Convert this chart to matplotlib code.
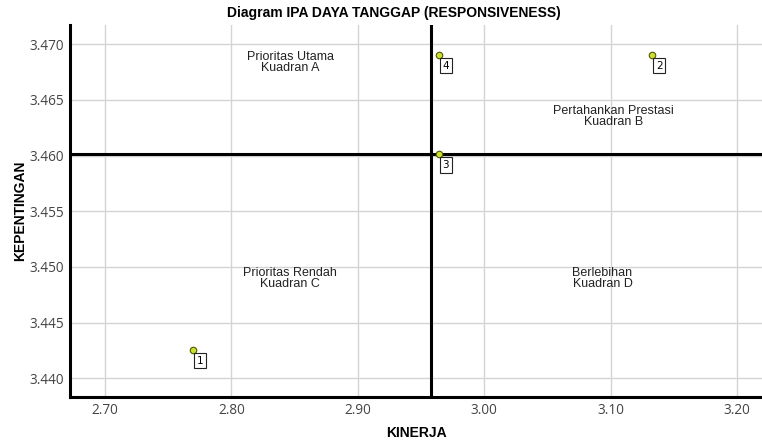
import matplotlib
matplotlib.use("Agg")
import matplotlib.pyplot as plt
import numpy as np

# Data
labels = ["1", "2", "3", "4"]
kinerja = [2.770, 3.133, 2.964, 2.964]
kepentingan = [3.4425, 3.4690, 3.4601, 3.4690]

quad_texts = ["Prioritas Utama\nKuadran A", "Pertahankan Prestasi\nKuadran B",
              "Prioritas Rendah\nKuadran C", "Berlebihan\nKuadran D"]
quad_x = [2.8466, 3.1024, 2.8466, 3.0936]
quad_y = [3.4684, 3.4635, 3.4490, 3.4490]

xticks = [2.70, 2.80, 2.90, 3.00, 3.10, 3.20]
yticks = [3.440, 3.445, 3.450, 3.455, 3.460, 3.465, 3.470]

title = "Diagram IPA DAYA TANGGAP (RESPONSIVENESS)"

plt.rcParams['font.family'] = ['Liberation Sans', 'DejaVu Sans']

fig = plt.figure(figsize=(7.62, 4.43), dpi=100)
ax = fig.add_axes([70/762, 1-397/443, 1-70/762, (397-25)/443])

ax.set_xlim(2.6724, 3.2197)
ax.set_ylim(3.43832, 3.47173)
ax.set_xticks(xticks)
ax.set_xticklabels([f"{v:.2f}" for v in xticks], fontfamily='Open Sans', color='#444444', fontsize=9.8)
ax.set_yticks(yticks)
ax.set_yticklabels([f"{v:.3f}" for v in yticks], fontfamily='Open Sans', color='#444444', fontsize=9.8)
ax.tick_params(length=0, pad=4)
ax.grid(True, color='#d4d4d4', linewidth=1)
ax.set_axisbelow(True)
for s in ['top', 'right']:
    ax.spines[s].set_visible(False)
for s in ['left', 'bottom']:
    ax.spines[s].set_linewidth(2.2)
    ax.spines[s].set_color('black')

mx = np.mean(kinerja)
my = np.mean(kepentingan)
ax.axvline(mx, color='black', linewidth=2.2, zorder=2)
ax.axhline(my, color='black', linewidth=2.2, zorder=2)

ax.scatter(kinerja, kepentingan, s=22, facecolor='#c8e030', edgecolor='#555500', linewidth=0.8, zorder=4)
for x, y, l in zip(kinerja, kepentingan, labels):
    ax.annotate(l, (x, y), xytext=(5, -7.5), textcoords='offset points', fontsize=7.5,
                ha='center', va='center', fontfamily='DejaVu Sans',
                bbox=dict(boxstyle='square,pad=0.25', facecolor='white', edgecolor='#222222', linewidth=0.8),
                zorder=5)

for t, x, y in zip(quad_texts, quad_x, quad_y):
    ax.text(x, y, t, ha='center', va='center', fontsize=9, color='#222222', linespacing=0.9)

fig.text(394/762, 1-13/443, title, ha='center', va='center', fontsize=10, fontweight='bold')
ax.set_xlabel("KINERJA", fontsize=10, fontweight='bold', labelpad=6)
ax.set_ylabel("KEPENTINGAN", fontsize=10, fontweight='bold', labelpad=2)

fig.savefig("out.png", dpi=100)
